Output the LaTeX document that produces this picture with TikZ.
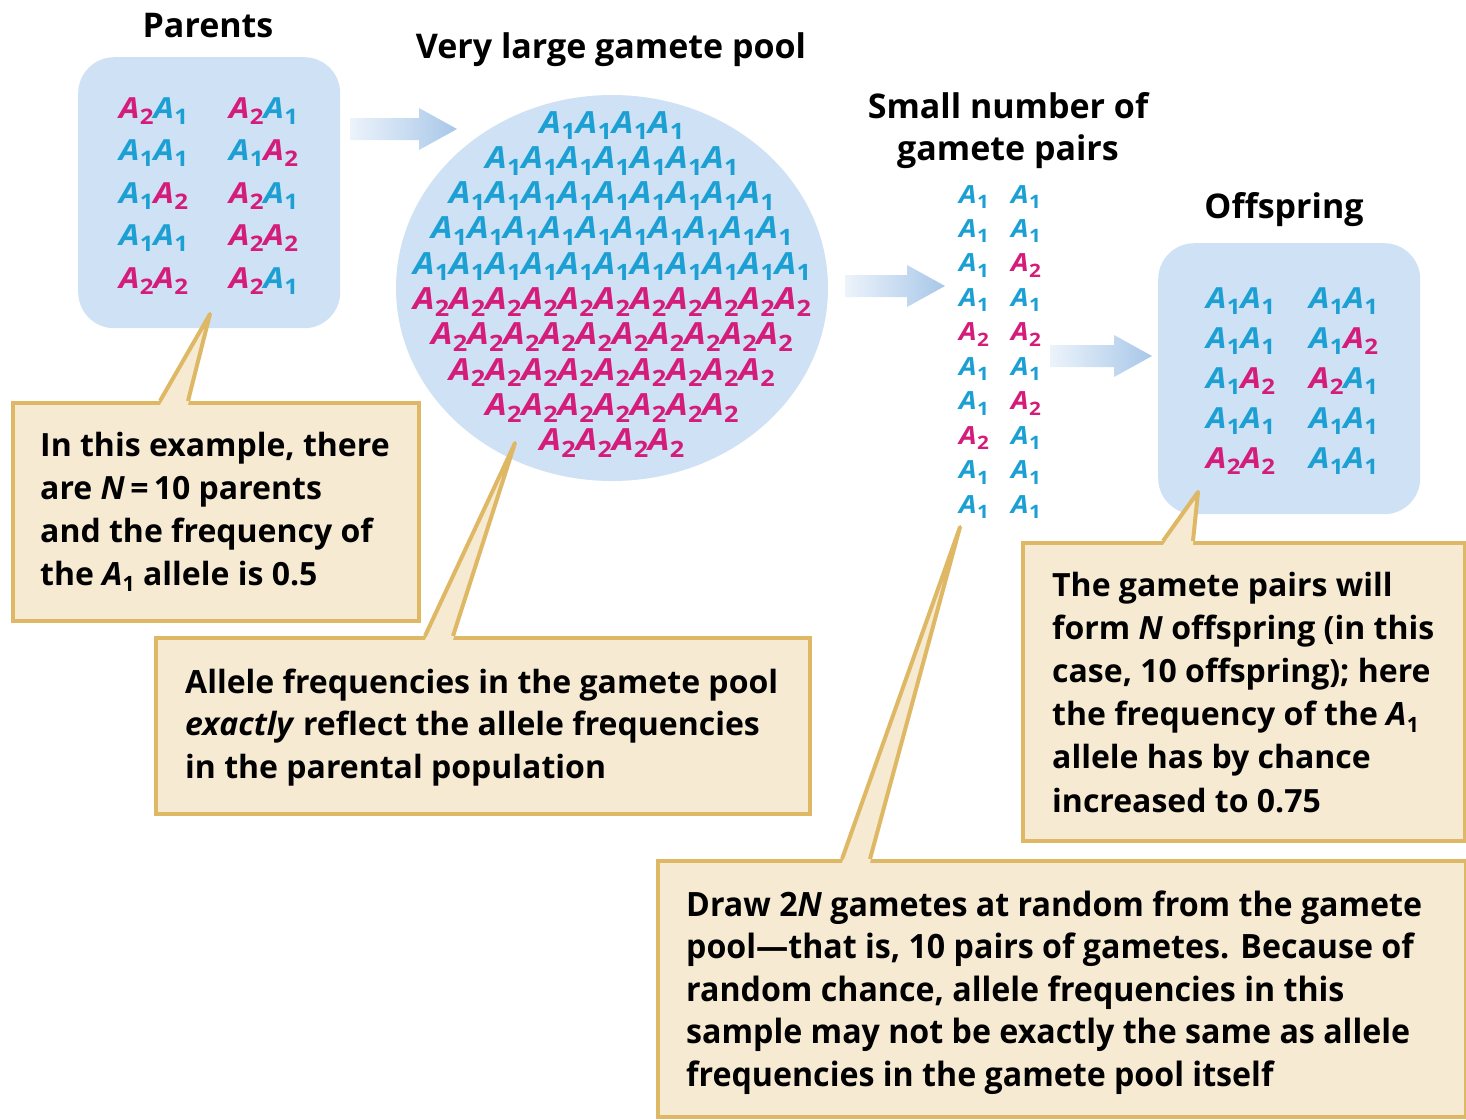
\documentclass[tikz,border=0pt]{standalone}
\usepackage{fontspec}
\setmainfont{Open Sans}
\newfontfamily\condfont[FakeStretch=0.96]{Open Sans}
\newfontfamily\genofont[FakeStretch=1.12]{Open Sans}
\usetikzlibrary{shapes.geometric}
\definecolor{boxblue}{RGB}{207,225,244}
\definecolor{aone}{RGB}{28,160,212}
\definecolor{atwo}{RGB}{212,28,122}
\definecolor{callfill}{RGB}{246,234,211}
\definecolor{callline}{RGB}{222,184,100}
\definecolor{arrL}{RGB}{236,243,251}
\definecolor{arrR}{RGB}{168,199,232}
\ExplSyntaxOn
\cs_new_eq:NN \Repl \prg_replicate:nn
\ExplSyntaxOff
\newcommand\gA[2]{{\color{#1}\textit{A}\kern0.3pt\raisebox{-0.22em}{\scalebox{0.74}{\upshape #2}}}}
\newcommand\Ao{\gA{aone}{1}}
\newcommand\At{\gA{atwo}{2}}
\newcommand\blA{\textit{A}\kern0.3pt\raisebox{-0.2em}{\scalebox{0.66}{\upshape 1}}}
\tikzset{
  bluebox/.style={fill=boxblue, draw=none, rounded corners=36pt, inner sep=0pt},
  callbox/.style={fill=callfill, draw=callline, line width=4pt, inner sep=0pt},
  tailfill/.style={fill=callfill},
  tailline/.style={draw=callline, line width=4pt, line join=round},
  title/.style={font=\fontsize{34}{40}\selectfont\bfseries, anchor=base, inner sep=0pt},
  geno/.style={font=\genofont\fontsize{29}{34}\selectfont\bfseries, anchor=base west, inner sep=0pt},
  poolg/.style={font=\genofont\fontsize{30.5}{34}\selectfont\bfseries, anchor=base, inner sep=0pt},
  pairg/.style={font=\genofont\fontsize{25}{30}\selectfont\bfseries, anchor=base west, inner sep=0pt},
  calltext/.style={font=\fontsize{32}{38}\selectfont\bfseries, anchor=base west, inner sep=0pt},
  condtext/.style={font=\condfont\fontsize{33.5}{38}\selectfont\bfseries, anchor=base west, inner sep=0pt},
  pics/gradarrow/.style={code={
    \shade[left color=arrL, right color=arrR]
      (0,0) -- (-38,-21) -- (-38,-11) -- (-#1,-11) -- (-#1,11) -- (-38,11) -- (-38,21) -- cycle;
  }}
}
\begin{document}
\begin{tikzpicture}[x=1pt,y=-1pt]
\useasboundingbox (0,0) rectangle (1466,1119);

% titles
\node[title] (tpar) at (208,37) {Parents};
\node[title] (tpool) at (611,58) {Very large gamete pool};
\node[title] (tsm1) at (1008,118) {Small number of};
\node[title] (tsm2) at (1008,160) {gamete pairs};
\node[title] (toff) at (1284,218) {Offspring};

% blue containers
\node[bluebox, minimum width=262pt, minimum height=271pt, anchor=north west] (parbox) at (78,57) {};
\node[fill=boxblue, draw=none, ellipse, minimum width=432pt, minimum height=386pt, inner sep=0pt] (pool) at (612,288) {};
\node[bluebox, minimum width=262pt, minimum height=271pt, anchor=north west] (offbox) at (1158,243) {};

% parents genotypes
\foreach \a/\b/\c/\d [count=\i] in {\At/\Ao/\At/\Ao, \Ao/\Ao/\Ao/\At, \Ao/\At/\At/\Ao, \Ao/\Ao/\At/\At, \At/\At/\At/\Ao}{
  \node[geno] (pa\i) at (119,{118+42.5*(\i-1)}) {\a\b};
  \node[geno] (pb\i) at (229,{118+42.5*(\i-1)}) {\c\d};
}
% offspring genotypes
\foreach \a/\b/\c/\d [count=\i] in {\Ao/\Ao/\Ao/\Ao, \Ao/\Ao/\Ao/\At, \Ao/\At/\At/\Ao, \Ao/\Ao/\Ao/\Ao, \At/\At/\Ao/\Ao}{
  \node[geno] (oa\i) at (1206,{308+40*(\i-1)}) {\a\b};
  \node[geno] (ob\i) at (1309,{308+40*(\i-1)}) {\c\d};
}
% gamete pool
\foreach \n/\g [count=\i] in {4/\Ao, 7/\Ao, 9/\Ao, 10/\Ao, 11/\Ao, 11/\At, 10/\At, 9/\At, 7/\At, 4/\At}{
  \node[poolg] (pr\i) at (612,{133+35.3*(\i-1)}) {\Repl{\n}{\g}};
}
% gamete pairs
\foreach \a/\b [count=\i] in {\Ao/\Ao, \Ao/\Ao, \Ao/\At, \Ao/\Ao, \At/\At, \Ao/\Ao, \Ao/\At, \At/\Ao, \Ao/\Ao, \Ao/\Ao}{
  \node[pairg] (ga\i) at (959,{203+34.45*(\i-1)}) {\a};
  \node[pairg] (gb\i) at (1011,{203+34.45*(\i-1)}) {\b};
}

% arrows
\coordinate (ar1) at (457,129);
\coordinate (ar2) at (945,286);
\coordinate (ar3) at (1152,356);
\pic at (ar1) {gradarrow=107};
\pic at (ar2) {gradarrow=100};
\pic at (ar3) {gradarrow=102};

% callout 1
\node[callbox, minimum width=406pt, minimum height=218pt, anchor=north west] (c1) at (11,401) {};
\coordinate (t1) at (210,314);
\coordinate (c1a) at (160,401);
\coordinate (c1b) at (188,401);
\fill[tailfill] ([yshift=-4pt]c1a) -- (t1) -- ([yshift=-4pt]c1b) -- cycle;
\draw[tailline] (c1a) -- (t1) -- (c1b);
\foreach \t [count=\i] in {{In this example, there}, {are \textit{N}\,=\,10 parents}, {and the frequency of}, {the \blA{} allele is 0.5}}{
  \node[calltext] (c1l\i) at (40,{456+43*(\i-1)}) {\t};
}

% callout 2
\node[callbox, minimum width=654pt, minimum height=176pt, anchor=north west] (c2) at (154,636) {};
\coordinate (t2) at (515,443);
\coordinate (c2a) at (425,636);
\coordinate (c2b) at (453,636);
\fill[tailfill] ([yshift=-4pt]c2a) -- (t2) -- ([yshift=-4pt]c2b) -- cycle;
\draw[tailline] (c2a) -- (t2) -- (c2b);
\foreach \t [count=\i] in {{Allele frequencies in the gamete pool}, {\textit{exactly} reflect the allele frequencies}, {in the parental population}}{
  \node[calltext] (c2l\i) at (185,{693+42.5*(\i-1)}) {\t};
}

% callout 3
\node[callbox, minimum width=442pt, minimum height=298pt, anchor=north west] (c3) at (1021,541) {};
\coordinate (t3) at (1198,492);
\coordinate (c3a) at (1163,541);
\coordinate (c3b) at (1193,541);
\fill[tailfill] ([yshift=-4pt]c3a) -- (t3) -- ([yshift=-4pt]c3b) -- cycle;
\draw[tailline] (c3a) -- (t3) -- (c3b);
\foreach \t [count=\i] in {{The gamete pairs will}, {form \textit{N} offspring (in this}, {case, 10 offspring); here}, {the frequency of the \blA}, {allele has by chance}, {increased to 0.75}}{
  \node[calltext] (c3l\i) at (1052,{596+43.2*(\i-1)}) {\t};
}

% callout 4
\node[callbox, minimum width=808pt, minimum height=256pt, anchor=north west] (c4) at (656,859) {};
\coordinate (t4) at (960,527);
\coordinate (c4a) at (842,859);
\coordinate (c4b) at (870,859);
\fill[tailfill] ([yshift=-4pt]c4a) -- (t4) -- ([yshift=-4pt]c4b) -- cycle;
\draw[tailline] (c4a) -- (t4) -- (c4b);
\foreach \t [count=\i] in {{Draw 2\textit{N} gametes at random from the gamete}, {pool—that is, 10 pairs of gametes. Because of}, {random chance, allele frequencies in this}, {sample may not be exactly the same as allele}, {frequencies in the gamete pool itself}}{
  \node[condtext] (c4l\i) at (686,{916+42.6*(\i-1)}) {\t};
}
\end{tikzpicture}
\end{document}
